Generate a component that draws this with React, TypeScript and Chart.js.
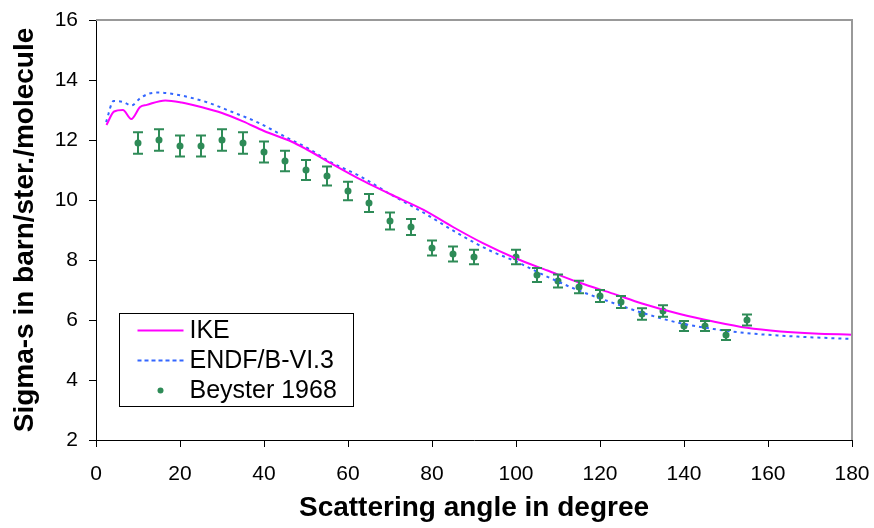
import React, { useEffect, useRef } from "react";
import { Chart, registerables } from "chart.js";

Chart.register(...registerables);

// IKE evaluation curve: [angle, sigma]
const ikeAngles = [2.5, 4.3, 6.4, 8.4, 10.5, 12.1, 16.5, 20.4, 25, 30, 35, 40, 46.5, 50, 56, 64, 70, 78, 85, 92, 100, 107.5, 115, 123.3, 130, 139, 147, 155, 163, 171, 180];
const ikeValues = [12.5, 12.95, 13.0, 12.7, 13.1, 13.17, 13.32, 13.25, 13.1, 12.9, 12.62, 12.3, 11.95, 11.7, 11.22, 10.61, 10.2, 9.67, 9.1, 8.57, 8.05, 7.65, 7.25, 6.87, 6.55, 6.2, 5.95, 5.74, 5.62, 5.55, 5.51];

// ENDF/B-VI.3 curve
const endfAngles = [2.4, 4.2, 6.6, 8.4, 10.5, 12.5, 14.5, 16.3, 20.4, 26.4, 32.3, 38.6, 45, 50.5, 56, 62.4, 70, 78.2, 86, 94, 100, 107.5, 115, 123.3, 131, 139.2, 147, 155, 163, 170.8, 180];
const endfValues = [12.6, 13.3, 13.26, 13.15, 13.39, 13.54, 13.58, 13.57, 13.48, 13.26, 12.94, 12.58, 12.11, 11.72, 11.25, 10.83, 10.2, 9.56, 8.9, 8.3, 7.95, 7.44, 6.98, 6.56, 6.2, 5.89, 5.7, 5.56, 5.48, 5.42, 5.37];

// Beyster 1968 measurements
const beysterAngles = [10, 15, 20, 25, 30, 35, 40, 45, 50, 55, 60, 65, 70, 75, 80, 85, 90, 100, 105, 110, 115, 120, 125, 130, 135, 140, 145, 150, 155];
const beysterValues = [11.9, 12.0, 11.8, 11.8, 12.0, 11.9, 11.6, 11.3, 11.0, 10.8, 10.3, 9.9, 9.3, 9.1, 8.4, 8.2, 8.1, 8.1, 7.5, 7.3, 7.1, 6.8, 6.6, 6.2, 6.3, 5.8, 5.8, 5.5, 6.0];
const beysterErrors = [0.36, 0.36, 0.35, 0.35, 0.36, 0.36, 0.35, 0.34, 0.33, 0.32, 0.31, 0.3, 0.28, 0.27, 0.25, 0.25, 0.24, 0.24, 0.23, 0.22, 0.21, 0.2, 0.2, 0.19, 0.19, 0.17, 0.17, 0.17, 0.18];

const seriesLabels = ["IKE", "ENDF/B-VI.3", "Beyster 1968"];
const xTitle = "Scattering angle in degree";
const yTitle = "Sigma-s in barn/ster./molecule";

const FONT = "'Liberation Sans', Arial, Helvetica, sans-serif";
const MAGENTA = "#FF00FF";
const BLUE = "#3366FF";
const GREEN = "#2E8B57";

const errorBarPlugin = {
  id: "errorBars",
  afterDatasetsDraw(chart: any) {
    const meta = chart.getDatasetMeta(2);
    if (!meta || meta.hidden) return;
    const { ctx, scales } = chart;
    const ys = scales.y;
    ctx.save();
    ctx.strokeStyle = GREEN;
    ctx.lineWidth = 2;
    meta.data.forEach((pt: any, i: number) => {
      const v = beysterValues[i];
      const e = beysterErrors[i];
      const x = pt.x;
      const yTop = ys.getPixelForValue(v + e);
      const yBot = ys.getPixelForValue(v - e);
      ctx.beginPath();
      ctx.moveTo(x, yTop);
      ctx.lineTo(x, yBot);
      ctx.moveTo(x - 5, yTop);
      ctx.lineTo(x + 5, yTop);
      ctx.moveTo(x - 5, yBot);
      ctx.lineTo(x + 5, yBot);
      ctx.stroke();
    });
    ctx.restore();
  },
};

const framePlugin = {
  id: "frameAndLegend",
  afterDraw(chart: any) {
    const { ctx, chartArea } = chart;
    const { left, right, top, bottom } = chartArea;
    ctx.save();
    // top and right frame
    ctx.strokeStyle = "#999999";
    ctx.lineWidth = 2;
    ctx.beginPath();
    ctx.moveTo(left, top);
    ctx.lineTo(right, top);
    ctx.lineTo(right, bottom);
    ctx.stroke();

    // legend box
    const bx = Math.round(left + 23) + 0.5;
    const by = Math.round(top + 293) + 0.5;
    const bw = 234;
    const bh = 93;
    ctx.fillStyle = "#ffffff";
    ctx.fillRect(bx, by, bw, bh);
    ctx.strokeStyle = "#000000";
    ctx.lineWidth = 1;
    ctx.strokeRect(bx, by, bw, bh);

    const rowY = [by + 17, by + 47, by + 77];
    const lx0 = bx + 18;
    const lx1 = bx + 64;
    // IKE
    ctx.strokeStyle = MAGENTA;
    ctx.lineWidth = 2;
    ctx.beginPath();
    ctx.moveTo(lx0, rowY[0]);
    ctx.lineTo(lx1, rowY[0]);
    ctx.stroke();
    // ENDF
    ctx.strokeStyle = BLUE;
    ctx.setLineDash([4, 3]);
    ctx.beginPath();
    ctx.moveTo(lx0, rowY[1]);
    ctx.lineTo(lx1, rowY[1]);
    ctx.stroke();
    ctx.setLineDash([]);
    // Beyster
    ctx.fillStyle = GREEN;
    ctx.beginPath();
    ctx.arc((lx0 + lx1) / 2, rowY[2], 3, 0, Math.PI * 2);
    ctx.fill();

    ctx.fillStyle = "#000000";
    ctx.font = `25px ${FONT}`;
    ctx.textBaseline = "middle";
    ctx.textAlign = "left";
    seriesLabels.forEach((t, i) => {
      ctx.fillText(t, lx1 + 6, rowY[i] + 1);
    });
    ctx.restore();
  },
};

export default function App() {
  const ref = useRef<HTMLCanvasElement | null>(null);

  useEffect(() => {
    if (!ref.current) return;
    const chart = new Chart(ref.current, {
      type: "scatter",
      data: {
        datasets: [
          {
            label: seriesLabels[0],
            data: ikeAngles.map((x, i) => ({ x, y: ikeValues[i] })),
            showLine: true,
            borderColor: MAGENTA,
            borderWidth: 2,
            pointRadius: 0,
            cubicInterpolationMode: "monotone",
          },
          {
            label: seriesLabels[1],
            data: endfAngles.map((x, i) => ({ x, y: endfValues[i] })),
            showLine: true,
            borderColor: BLUE,
            borderWidth: 2,
            borderDash: [3, 4],
            pointRadius: 0,
            cubicInterpolationMode: "monotone",
          },
          {
            label: seriesLabels[2],
            data: beysterAngles.map((x, i) => ({ x, y: beysterValues[i] })),
            showLine: false,
            backgroundColor: GREEN,
            borderColor: GREEN,
            pointRadius: 3.5,
            pointBorderWidth: 0,
          },
        ],
      },
      options: {
        responsive: false,
        maintainAspectRatio: false,
        animation: false,
        devicePixelRatio: 1,
        layout: { padding: { top: 20, right: 22, left: 0, bottom: 0 } },
        plugins: {
          legend: { display: false },
          tooltip: { enabled: false },
        },
        scales: {
          x: {
            type: "linear",
            min: 0,
            max: 180,
            ticks: {
              stepSize: 20,
              color: "#000",
              padding: 15,
              font: { family: FONT, size: 21 },
            },
            grid: {
              display: true,
              drawOnChartArea: false,
              drawTicks: true,
              tickLength: 7,
              color: "#000",
            },
            border: { display: true, color: "#000", width: 1 },
            title: {
              display: true,
              text: xTitle,
              color: "#000",
              font: { family: FONT, size: 28, weight: "bold" },
              padding: { top: 0, bottom: 3 },
            },
            afterFit: (scale: any) => {
              scale.height = 88;
              scale.paddingLeft = 0;
              scale.paddingRight = 0;
            },
          },
          y: {
            type: "linear",
            min: 2,
            max: 16,
            ticks: {
              stepSize: 2,
              color: "#000",
              padding: 11,
              font: { family: FONT, size: 21 },
            },
            grid: {
              display: true,
              drawOnChartArea: false,
              drawTicks: true,
              tickLength: 7,
              color: "#000",
            },
            border: { display: true, color: "#000", width: 1 },
            title: {
              display: true,
              text: yTitle,
              color: "#000",
              font: { family: FONT, size: 28, weight: "bold" },
              padding: { top: 8, bottom: 0 },
            },
            afterFit: (scale: any) => {
              scale.width = 96;
              scale.paddingTop = 0;
              scale.paddingBottom = 0;
            },
          },
        },
      },
      plugins: [errorBarPlugin, framePlugin],
    } as any);
    return () => chart.destroy();
  }, []);

  return (
    <div style={{ position: "fixed", left: 0, top: 0, width: 874, height: 528, background: "#fff" }}>
      <canvas ref={ref} width={874} height={528} style={{ display: "block", width: 874, height: 528 }} />
    </div>
  );
}
